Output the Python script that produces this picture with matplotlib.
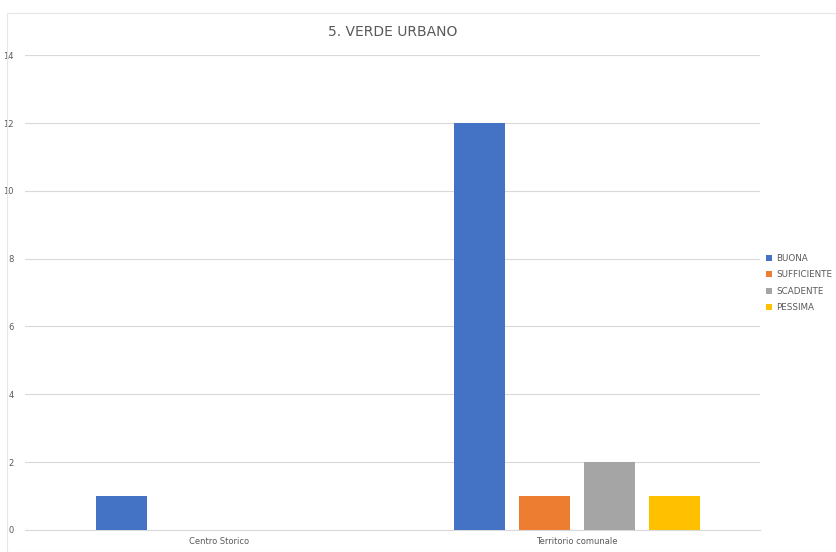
import matplotlib
matplotlib.use('Agg')
import matplotlib.pyplot as plt
from matplotlib.patches import Rectangle
import numpy as np

plt.rcParams['font.family'] = ['Liberation Sans Narrow', 'DejaVu Sans']

# data
categories = ['Centro Storico', 'Territorio comunale']
series = ['BUONA', 'SUFFICIENTE', 'SCADENTE', 'PESSIMA']
buona = [1, 12]
sufficiente = [0, 1]
scadente = [0, 2]
pessima = [0, 1]
colors = ['#4472C4', '#ED7D31', '#A5A5A5', '#FFC000']

fig = plt.figure(figsize=(8.36, 5.52), dpi=100)
ax = fig.add_axes([0.030, 0.040, 0.879, 0.860])

# light chart border like the office chart area
fig.patches.append(Rectangle((0.008, 0.0), 0.992, 0.977, transform=fig.transFigure,
                             fill=False, edgecolor='#E6E6E6', linewidth=0.8))

x = np.arange(len(categories))
step = 0.181
width = 0.142
for i, (name, vals) in enumerate(zip(series, [buona, sufficiente, scadente, pessima])):
    ax.bar(x + (i - 1.5) * step, vals, width, color=colors[i], label=name, zorder=3)

ax.set_xlim(-0.54, 1.51)
ax.set_ylim(0, 14)
ax.set_yticks(range(0, 15, 2))
ax.set_xticks(x)
ax.set_xticklabels(categories)
ax.grid(axis='y', color='#D9D9D9', linewidth=0.8, zorder=0)
for s in ['top', 'right', 'left']:
    ax.spines[s].set_visible(False)
ax.spines['bottom'].set_color('#D9D9D9')
ax.tick_params(axis='both', length=0, labelsize=6, colors='#595959')
ax.tick_params(axis='y', pad=8)
ax.tick_params(axis='x', pad=5)

ax.set_title('5. VERDE URBANO', fontsize=10, color='#595959', pad=14)

leg = ax.legend(loc='center left', bbox_to_anchor=(0.998, 0.52), frameon=False,
                fontsize=6.3, handlelength=0.7, handleheight=0.7, handletextpad=0.4,
                labelspacing=0.85, labelcolor='#595959')

plt.savefig('out.png', dpi=100)
plt.close()
